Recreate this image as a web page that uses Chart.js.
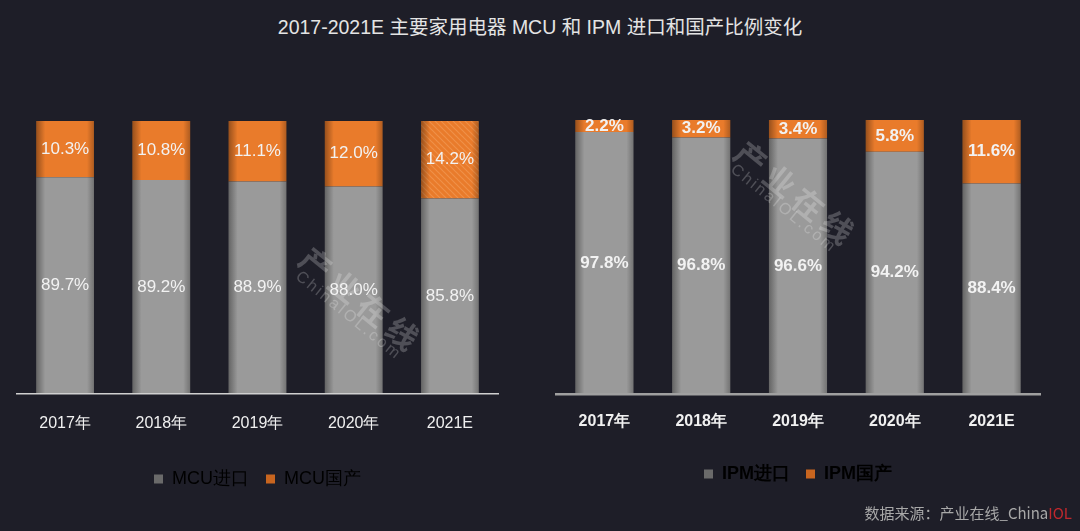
<!DOCTYPE html>
<html>
<head>
<meta charset="utf-8">
<script src="https://cdn.jsdelivr.net/npm/chart.js@4.4.1/dist/chart.umd.min.js"></script>
<style>
  html, body { margin: 0; padding: 0; }
  body { width: 1080px; height: 531px; background: #1e1e28; position: relative; overflow: hidden;
         font-family: "Liberation Sans", "Noto Sans CJK SC", sans-serif; }
  #title { position: absolute; top: 11px; left: 0; width: 1080px; text-align: center;
           color: #e4e4e4; font-size: 19.5px; }
  .box { position: absolute; top: 100px; }
  #left { left: 0; width: 515px; height: 404px; }
  #right { left: 540px; width: 520px; height: 403px; }
  #source { position: absolute; right: 8px; top: 502px; color: #a8a8a8; font-size: 15px;
            font-family: "Noto Sans CJK SC", sans-serif; }
  #source span { color: #c0282d; }
  .mark { position: absolute; color: rgba(255,255,255,0.22); transform-origin: 0 50%;
          transform: rotate(39deg); white-space: nowrap; pointer-events: none; }
  .mark.cn { font-family: "Noto Sans CJK SC", sans-serif; font-weight: bold; font-size: 31px;
             line-height: 31px; letter-spacing: 6px; }
  .mark.en { font-family: "Liberation Sans", sans-serif; font-size: 16px; line-height: 16px;
             letter-spacing: 2.4px; }
</style>
</head>
<body>
<div id="title">2017-2021E 主要家用电器 MCU 和 IPM 进口和国产比例变化</div>
<div class="box" id="left"><canvas id="mcuChart"></canvas></div>
<div class="box" id="right"><canvas id="ipmChart"></canvas></div>
<div class="mark cn" style="left:305px;top:237px">产业在线</div>
<div class="mark en" style="left:298px;top:266px">ChinaIOL.com</div>
<div class="mark cn" style="left:740px;top:131px">产业在线</div>
<div class="mark en" style="left:733px;top:159px">ChinaIOL.com</div>
<div id="source">数据来源：产业在线_China<span>IOL</span></div>

<script>
const mcuYears = ["2017年", "2018年", "2019年", "2020年", "2021E"];
const mcuImport = [89.7, 89.2, 88.9, 88.0, 85.8];
const mcuDomestic = [10.3, 10.8, 11.1, 12.0, 14.2];

const ipmYears = ["2017年", "2018年", "2019年", "2020年", "2021E"];
const ipmImport = [97.8, 96.8, 96.6, 94.2, 88.4];
const ipmDomestic = [2.2, 3.2, 3.4, 5.8, 11.6];

// the source chart's value axis runs from 50% to 100%
const axisMin = 50;
const axisMax = 100;

const GRAY = "#9a9a9a";
const ORANGE = "#e97b2b";

// hatched fill for the estimated year
function hatch() {
  const c = document.createElement("canvas");
  c.width = 6; c.height = 6;
  const g = c.getContext("2d");
  g.fillStyle = ORANGE;
  g.fillRect(0, 0, 6, 6);
  g.strokeStyle = "rgba(255,200,150,0.28)";
  g.lineWidth = 1.2;
  g.beginPath();
  g.moveTo(0, 0); g.lineTo(6, 6);
  g.moveTo(-3, 3); g.lineTo(3, 9);
  g.moveTo(3, -3); g.lineTo(9, 3);
  g.stroke();
  return g.createPattern(c, "repeat");
}

// edge shading + value labels drawn on top of the bars
const barDecor = {
  id: "barDecor",
  afterDatasetsDraw(chart, args, opts) {
    const ctx = chart.ctx;
    const area = chart.chartArea;
    ctx.save();
    ctx.beginPath();
    ctx.rect(area.left, area.top, area.right - area.left, area.bottom - area.top);
    ctx.clip();
    chart.data.datasets.forEach((ds, di) => {
      const meta = chart.getDatasetMeta(di);
      meta.data.forEach(bar => {
        const left = bar.x - bar.width / 2;
        const right = bar.x + bar.width / 2;
        const top = Math.min(bar.y, bar.base);
        const h = Math.abs(bar.base - bar.y);
        let g = ctx.createLinearGradient(left, 0, left + 9, 0);
        g.addColorStop(0, "rgba(0,0,0,0.35)");
        g.addColorStop(1, "rgba(0,0,0,0)");
        ctx.fillStyle = g;
        ctx.fillRect(left, top, 9, h);
        g = ctx.createLinearGradient(right - 7, 0, right, 0);
        g.addColorStop(0, "rgba(0,0,0,0)");
        g.addColorStop(1, "rgba(0,0,0,0.25)");
        ctx.fillStyle = g;
        ctx.fillRect(right - 7, top, 7, h);
      });
    });
    ctx.restore();

    chart.data.datasets.forEach((ds, di) => {
      const meta = chart.getDatasetMeta(di);
      meta.data.forEach((bar, i) => {
        const bottom = Math.min(bar.base, area.bottom);
        ctx.save();
        ctx.fillStyle = "#f2f2f2";
        ctx.font = opts.font;
        ctx.textAlign = "center";
        ctx.textBaseline = "middle";
        ctx.fillText(ds.data[i].toFixed(1) + "%", bar.x, (bar.y + bottom) / 2);
        ctx.restore();
      });
    });
  }
};

function makeChart(id, labels, imp, dom, names, bold, pad, tickPad, legendPad, hatchLast) {
  const weight = bold ? "bold" : "normal";
  const pattern = hatch();
  return new Chart(document.getElementById(id), {
    type: "bar",
    data: {
      labels,
      datasets: [
        { label: names[0], data: imp, backgroundColor: GRAY, legendColor: "#6a6a6a" },
        { label: names[1], data: dom, legendColor: "#c8651f",
          backgroundColor: ctx => (hatchLast && ctx.dataIndex === labels.length - 1) ? pattern : ORANGE }
      ]
    },
    options: {
      responsive: true,
      maintainAspectRatio: false,
      animation: false,
      layout: { padding: pad },
      datasets: { bar: { categoryPercentage: 0.6, barPercentage: 1, borderWidth: 0 } },
      scales: {
        x: {
          stacked: true,
          grid: { display: false, drawTicks: false },
          border: { display: true, color: bold ? "#a0a0a0" : "#d0d0d0", width: bold ? 2.5 : 1.5, z: 1 },
          ticks: { color: "#f0f0f0", padding: tickPad, font: { size: 16, weight } }
        },
        y: { stacked: true, min: axisMin, max: axisMax, display: false }
      },
      plugins: {
        legend: {
          position: "bottom",
          labels: {
            color: "#f0f0f0",
            boxWidth: 9,
            boxHeight: 9,
            padding: legendPad,
            font: { size: 18, weight },
            generateLabels: chart => chart.data.datasets.map((ds, i) => ({
              text: ds.label, fillStyle: ds.legendColor, strokeStyle: ds.legendColor,
              lineWidth: 0, datasetIndex: i
            }))
          }
        },
        tooltip: { enabled: false },
        barDecor: { font: weight + " 17px 'Liberation Sans', sans-serif" }
      }
    },
    plugins: [barDecor]
  });
}

makeChart("mcuChart", mcuYears, mcuImport, mcuDomestic, ["MCU进口", "MCU国产"], false,
  { left: 17, right: 17, top: 21, bottom: 6 }, 20, 17, true);
makeChart("ipmChart", ipmYears, ipmImport, ipmDomestic, ["IPM进口", "IPM国产"], true,
  { left: 16, right: 20, top: 20, bottom: 10 }, 18, 16, false);
</script>
</body>
</html>
